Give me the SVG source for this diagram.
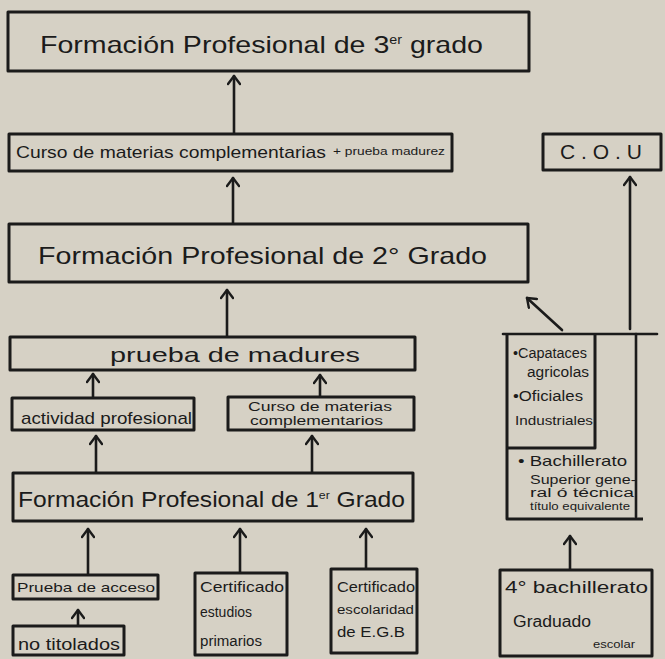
<svg xmlns="http://www.w3.org/2000/svg" width="665" height="659" viewBox="0 0 665 659">
<style>
.bx{fill:none;stroke:#1b1b1b;stroke-width:3;stroke-linejoin:round}
.ln{fill:none;stroke:#1b1b1b;stroke-width:2.6;stroke-linecap:round}
.ar{fill:none;stroke:#1b1b1b;stroke-width:2.6;stroke-linecap:round;marker-end:url(#ah)}
text{font-family:"Liberation Sans","DejaVu Sans",sans-serif;fill:#1b1b1b}
</style>
<defs>
<marker id="ah" markerUnits="userSpaceOnUse" viewBox="0 0 14 14" refX="12" refY="7" markerWidth="14" markerHeight="14" orient="auto">
<path d="M4,1 L12,7 L4,13" fill="none" stroke="#1b1b1b" stroke-width="2.4" stroke-linecap="round" stroke-linejoin="round"/>
</marker>
</defs>
<rect width="665" height="659" fill="#d6d1c5"/>

<g id="connectors">
<line class="ar" x1="234" y1="133" x2="234" y2="76"/>
<line class="ar" x1="233" y1="223" x2="233" y2="178"/>
<line class="ar" x1="227" y1="336" x2="227" y2="290"/>
<line class="ar" x1="93" y1="397" x2="93" y2="374"/>
<line class="ar" x1="320" y1="396" x2="320" y2="375"/>
<line class="ar" x1="96" y1="472" x2="96" y2="436"/>
<line class="ar" x1="312" y1="472" x2="312" y2="436"/>
<line class="ar" x1="88" y1="574" x2="88" y2="529"/>
<line class="ar" x1="240" y1="572" x2="240" y2="529"/>
<line class="ar" x1="366" y1="568" x2="366" y2="529"/>
<line class="ar" x1="78" y1="625" x2="78" y2="610"/>
<line class="ar" x1="570" y1="569" x2="570" y2="536"/>
<line class="ar" x1="630" y1="329" x2="630" y2="177"/>
<line class="ar" x1="562" y1="330" x2="527" y2="298"/>
</g>

<g id="fp3">
<rect class="bx" x="8" y="12" width="521" height="59"/>
<text x="40" y="53" font-size="24" textLength="443" lengthAdjust="spacingAndGlyphs">Formación Profesional de 3<tspan font-size="12" dy="-9">er</tspan><tspan dy="9"> grado</tspan></text>
</g>

<g id="curso-materias">
<rect class="bx" x="9" y="134" width="443" height="37"/>
<text x="16" y="158" font-size="17" textLength="310" lengthAdjust="spacingAndGlyphs">Curso de materias complementarias</text>
<text x="333" y="155" font-size="10" textLength="112" lengthAdjust="spacingAndGlyphs">+ prueba madurez</text>
</g>

<g id="cou">
<rect class="bx" x="543" y="134" width="118" height="36"/>
<text x="560" y="159" font-size="21" textLength="82" lengthAdjust="spacing">C.O.U</text>
</g>

<g id="fp2">
<rect class="bx" x="9" y="224" width="519" height="58"/>
<text x="38" y="264" font-size="24" textLength="449" lengthAdjust="spacingAndGlyphs">Formación Profesional de 2° Grado</text>
</g>

<g id="prueba-madures">
<rect class="bx" x="10" y="337" width="405" height="33"/>
<text x="110" y="362" font-size="21" textLength="250" lengthAdjust="spacingAndGlyphs">prueba de madures</text>
</g>

<g id="actividad">
<rect class="bx" x="12" y="398" width="182" height="32"/>
<text x="21" y="424" font-size="17" textLength="171" lengthAdjust="spacingAndGlyphs">actividad profesional</text>
</g>

<g id="curso-materias-2">
<rect class="bx" x="228" y="397" width="186" height="33"/>
<text x="248" y="411" font-size="12" textLength="144" lengthAdjust="spacingAndGlyphs">Curso de materias</text>
<text x="250" y="425" font-size="12" textLength="133" lengthAdjust="spacingAndGlyphs">complementarios</text>
</g>

<g id="fp1">
<rect class="bx" x="13" y="473" width="400" height="48"/>
<text x="18" y="507" font-size="22" textLength="387" lengthAdjust="spacingAndGlyphs">Formación Profesional de 1<tspan font-size="11" dy="-8">er</tspan><tspan dy="8"> Grado</tspan></text>
</g>

<g id="prueba-acceso">
<rect class="bx" x="13" y="575" width="145" height="24"/>
<text x="17" y="592" font-size="13" textLength="138" lengthAdjust="spacingAndGlyphs">Prueba de acceso</text>
</g>

<g id="no-titolados">
<rect class="bx" x="13" y="626" width="111" height="29"/>
<text x="18" y="650" font-size="16" textLength="102" lengthAdjust="spacingAndGlyphs">no titolados</text>
</g>

<g id="cert-primarios">
<rect class="bx" x="195" y="573" width="92" height="82"/>
<text x="200" y="592" font-size="15" textLength="84" lengthAdjust="spacingAndGlyphs">Certificado</text>
<text x="200" y="617" font-size="14" textLength="52" lengthAdjust="spacingAndGlyphs">estudios</text>
<text x="200" y="646" font-size="14" textLength="62" lengthAdjust="spacingAndGlyphs">primarios</text>
</g>

<g id="cert-egb">
<rect class="bx" x="331" y="569" width="86" height="84"/>
<text x="337" y="592" font-size="14" textLength="78" lengthAdjust="spacingAndGlyphs">Certificado</text>
<text x="337" y="614" font-size="12" textLength="77" lengthAdjust="spacingAndGlyphs">escolaridad</text>
<text x="337" y="637" font-size="14" textLength="68" lengthAdjust="spacingAndGlyphs">de E.G.B</text>
</g>

<g id="bachillerato-4">
<rect class="bx" x="500" y="570" width="152" height="86"/>
<text x="505" y="593" font-size="16" textLength="143" lengthAdjust="spacingAndGlyphs">4° bachillerato</text>
<text x="513" y="627" font-size="16" textLength="78" lengthAdjust="spacingAndGlyphs">Graduado</text>
<text x="593" y="648" font-size="11" textLength="42" lengthAdjust="spacingAndGlyphs">escolar</text>
</g>

<g id="titulos">
<line class="ln" x1="503" y1="334" x2="657" y2="334"/>
<polyline class="bx" points="507,334 507,519 643,519"/>
<line class="ln" x1="636" y1="334" x2="636" y2="517"/>
<polyline class="bx" points="507,448 595,448 595,334"/>
<text x="513" y="358" font-size="14" textLength="74" lengthAdjust="spacingAndGlyphs">•Capataces</text>
<text x="527" y="377" font-size="14" textLength="62" lengthAdjust="spacingAndGlyphs">agricolas</text>
<text x="513" y="401" font-size="14" textLength="70" lengthAdjust="spacingAndGlyphs">•Oficiales</text>
<text x="515" y="425" font-size="13" textLength="78" lengthAdjust="spacingAndGlyphs">Industriales</text>
<text x="518" y="466" font-size="15" textLength="109" lengthAdjust="spacingAndGlyphs">• Bachillerato</text>
<text x="530" y="484" font-size="12" textLength="106" lengthAdjust="spacingAndGlyphs">Superior gene-</text>
<text x="530" y="497" font-size="12" textLength="104" lengthAdjust="spacingAndGlyphs">ral ó técnica</text>
<text x="530" y="510" font-size="11" textLength="100" lengthAdjust="spacingAndGlyphs">título equivalente</text>
</g>
</svg>
